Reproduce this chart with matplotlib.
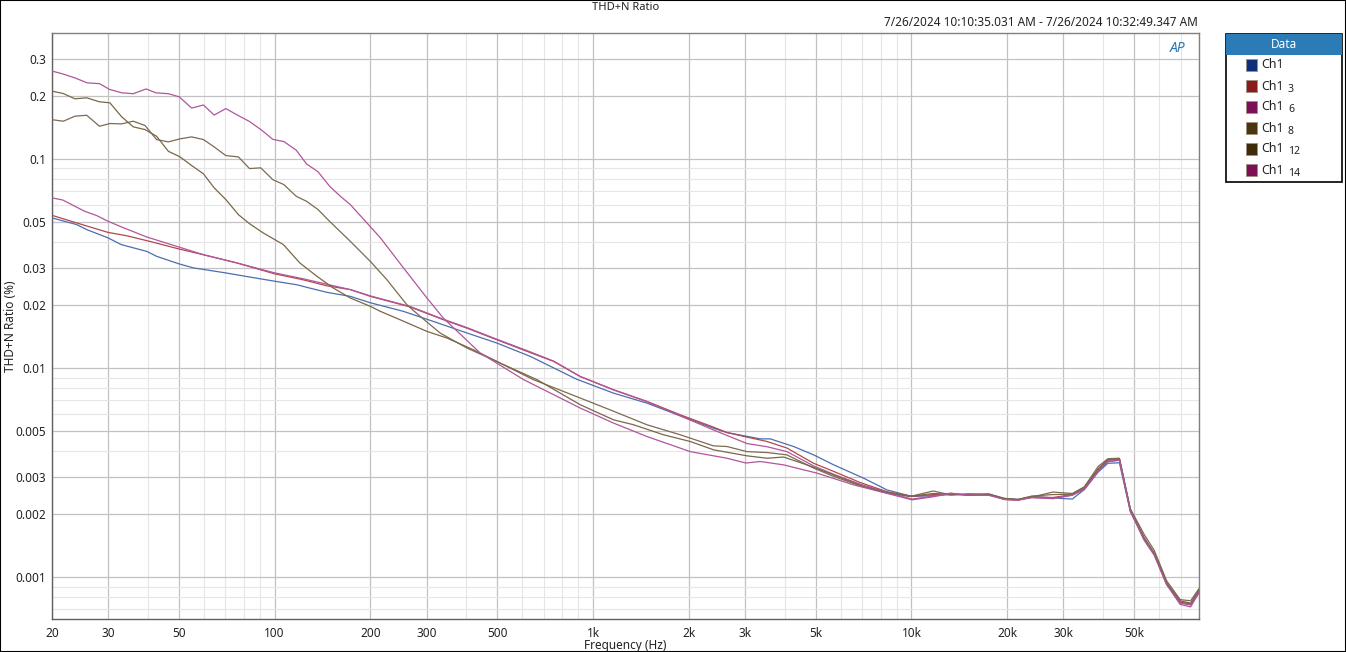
import numpy as np
import matplotlib
matplotlib.use("Agg")
import matplotlib.pyplot as plt
from matplotlib.patches import Rectangle
from matplotlib.ticker import FixedLocator, FixedFormatter, NullFormatter

plt.rcParams["font.family"] = ["Noto Sans", "DejaVu Sans"]

# ---------------------------------------------------------------
# data (frequency in Hz, THD+N in %)
# ---------------------------------------------------------------
TAIL_F = [11700, 13300, 15100, 17500, 19600, 21600, 23900, 27800, 32000, 34900,
          38600, 41400, 45000, 48700, 53800, 57900, 63300, 69800, 75300, 80000]

F_CH1 = [20, 23.9, 25.7, 30, 33, 39.7, 42.6, 50, 55.6, 69.1, 83.8, 100, 117.5, 129,
         146, 173, 200, 254, 315, 402, 499, 636, 886, 1160, 1477, 1880, 2391, 2635,
         3351, 3604, 4267, 4930, 5700, 7080, 8380, 10040] + TAIL_F
V_CH1 = [0.0522, 0.0485, 0.0459, 0.0419, 0.0389, 0.0361, 0.0342, 0.0315, 0.0301,
         0.0286, 0.0272, 0.0260, 0.0250, 0.0241, 0.0230, 0.0220, 0.0205, 0.01865,
         0.0167, 0.0147, 0.01316, 0.01135, 0.00885, 0.00758, 0.00679, 0.0059,
         0.00515, 0.00491, 0.00458, 0.00458, 0.00421, 0.00384, 0.00344, 0.00297,
         0.00261, 0.00243,
         0.00245, 0.00250, 0.00246, 0.00247, 0.00236, 0.00235, 0.00243, 0.00239,
         0.00236, 0.00262, 0.00318, 0.00350, 0.00352, 0.00205, 0.00152, 0.00128,
         0.00092, 0.000755, 0.000745, 0.00084]

F_CH3 = [20, 23.9, 30, 34.3, 40.6, 50, 59.8, 76.1, 100, 123, 146, 173, 200, 266,
         339, 402, 499, 621, 753, 912, 1160, 1477, 1880, 2391, 2635, 3044, 3520,
         4065, 4930, 5700, 6910, 8380, 10040] + TAIL_F
V_CH3 = [0.0537, 0.0494, 0.0445, 0.0429, 0.0403, 0.0371, 0.0348, 0.0318, 0.0282,
         0.0264, 0.0247, 0.0237, 0.0220, 0.0196, 0.0170, 0.0155, 0.01364, 0.0120,
         0.01074, 0.0091, 0.00787, 0.00692, 0.00597, 0.00521, 0.00491, 0.00467,
         0.00445, 0.00414, 0.0035, 0.0032, 0.00283, 0.00256, 0.00243,
         0.00248, 0.00247, 0.0025, 0.00249, 0.00235, 0.00233, 0.00242, 0.0024,
         0.00248, 0.00266, 0.00326, 0.00362, 0.00366, 0.0021, 0.00152, 0.00129,
         0.00093, 0.00076, 0.00074, 0.00086]

F_CH6 = [20, 21.6, 25.3, 27.6, 30, 33, 39.7, 50, 59.8, 76.1, 100, 123, 173, 200,
         266, 339, 402, 499, 621, 753, 912, 1160, 1477, 1880, 2391, 3044, 3520,
         4065, 4930, 5700, 6910, 8380, 10040] + TAIL_F
V_CH6 = [0.0651, 0.0636, 0.0562, 0.0536, 0.0503, 0.0473, 0.0423, 0.0379, 0.0348,
         0.0318, 0.0285, 0.0267, 0.0237, 0.0221, 0.0197, 0.0171, 0.0156, 0.01372,
         0.0121, 0.01078, 0.0091, 0.00785, 0.0069, 0.0059, 0.00505, 0.00435,
         0.0042, 0.00398, 0.0034, 0.0031, 0.00278, 0.00254, 0.00236,
         0.00244, 0.00252, 0.00246, 0.00248, 0.00237, 0.00234, 0.0024, 0.00238,
         0.00247, 0.00264, 0.00322, 0.00358, 0.00362, 0.00208, 0.00151, 0.00129,
         0.00093, 0.00075, 0.000735, 0.00085]

F_CH8 = [20, 21.7, 23.6, 25.7, 28.2, 30.4, 33.1, 36, 39.2, 42.6, 46.4, 50.5, 54.9,
         59.8, 64.6, 70.3, 77, 83.4, 90.5, 98.7, 107, 117, 126, 137, 149, 173,
         199.6, 225, 260, 286, 331, 402, 499, 650, 912, 1133, 1477, 1880, 2391,
         2635, 3044, 3520, 4065, 4930, 5700, 6910, 8380, 10040] + TAIL_F
V_CH8 = [0.154, 0.1514, 0.160, 0.1617, 0.1432, 0.1476, 0.147, 0.1514, 0.1444,
         0.1237, 0.1206, 0.1247, 0.1274, 0.1237, 0.1141, 0.1037, 0.1022, 0.0899,
         0.0906, 0.0796, 0.0753, 0.0662, 0.0627, 0.0572, 0.0502, 0.0403, 0.0324,
         0.0265, 0.0201, 0.0177, 0.0147, 0.01245, 0.01074, 0.00879, 0.00718,
         0.0063, 0.00535, 0.00479, 0.00424, 0.00421, 0.00398, 0.00394, 0.00384,
         0.00332, 0.00303, 0.00273, 0.00252, 0.00244,
         0.00258, 0.00247, 0.00249, 0.00247, 0.00237, 0.00235, 0.00241, 0.00255,
         0.00251, 0.0027, 0.00338, 0.00368, 0.0037, 0.00212, 0.0016, 0.00134,
         0.00096, 0.00078, 0.00077, 0.00088]

F_CH12 = [20, 21.7, 23.6, 25.7, 28.2, 30.4, 33.1, 36, 39.2, 42.6, 46.4, 50.5, 54.9,
          59.8, 64.6, 70.3, 77, 83.4, 92.2, 106.6, 120, 136, 153, 173, 200, 215,
          248, 301, 348, 421, 511, 667, 912, 1160, 1341, 1666, 2020, 2391, 3044,
          3520, 3967, 4700, 5700, 7080, 8380, 9800] + TAIL_F
V_CH12 = [0.2107, 0.2054, 0.1938, 0.1959, 0.1875, 0.1854, 0.1589, 0.1423, 0.1381,
          0.1283, 0.1087, 0.1022, 0.0929, 0.0848, 0.0727, 0.0639, 0.0541, 0.049,
          0.0442, 0.0389, 0.0318, 0.0274, 0.0241, 0.0216, 0.0197, 0.01865, 0.0170,
          0.01496, 0.0139, 0.01222, 0.01055, 0.00879, 0.00667, 0.00565, 0.00535,
          0.00479, 0.00445, 0.00406, 0.0038, 0.0037, 0.00375, 0.00344, 0.00308,
          0.00271, 0.00254, 0.00243,
          0.00251, 0.00249, 0.00247, 0.0025, 0.00238, 0.00235, 0.00244, 0.00248,
          0.00249, 0.00268, 0.0033, 0.00365, 0.00368, 0.0021, 0.00155, 0.0013,
          0.00094, 0.00077, 0.00075, 0.00087]

F_CH14 = [20, 21.6, 23.6, 25.8, 28.2, 30.3, 33.1, 36, 39.5, 42.4, 46.4, 50.2, 54.9,
          59.8, 64.6, 70.3, 77, 83.4, 91.2, 98.7, 107, 117, 126, 137, 149, 161,
          173, 215, 254, 301, 339, 442, 605, 912, 1160, 1477, 2020, 2635, 3022,
          3351, 3967, 5053, 6585, 7985, 10040] + TAIL_F
V_CH14 = [0.263, 0.255, 0.244, 0.231, 0.229, 0.215, 0.207, 0.205, 0.216, 0.207,
          0.205, 0.198, 0.175, 0.181, 0.162, 0.174, 0.161, 0.151, 0.137, 0.124,
          0.121, 0.110, 0.0946, 0.0867, 0.0739, 0.0662, 0.0604, 0.0419, 0.0301,
          0.0216, 0.0173, 0.0118, 0.0088, 0.00643, 0.00545, 0.0047, 0.00398,
          0.0037, 0.00351, 0.00357, 0.00344, 0.00314, 0.00276, 0.00256, 0.00234,
          0.00242, 0.00251, 0.00247, 0.00246, 0.00235, 0.00233, 0.0024, 0.00237,
          0.00246, 0.00262, 0.0032, 0.00356, 0.00362, 0.00207, 0.0015, 0.00127,
          0.00092, 0.00074, 0.00072, 0.00084]

NAMES = ["Ch1", "Ch1", "Ch1", "Ch1", "Ch1", "Ch1"]
SUBS = ["", "3", "6", "8", "12", "14"]
LINE_COLORS = ["#4d6db0", "#b2474f", "#b0569c", "#7d6b50", "#7a6748", "#b0569c"]
SWATCH_COLORS = ["#0f2f7a", "#8b1a1a", "#7b1054", "#4a3510", "#3f2b0a", "#7b1054"]

X_TICKS = [20, 30, 50, 100, 200, 300, 500, 1000, 2000, 3000, 5000,
           10000, 20000, 30000, 50000]
X_LABELS = ["20", "30", "50", "100", "200", "300", "500", "1k", "2k", "3k", "5k",
            "10k", "20k", "30k", "50k"]
Y_TICKS = [0.3, 0.2, 0.1, 0.05, 0.03, 0.02, 0.01, 0.005, 0.003, 0.002, 0.001]
Y_LABELS = ["0.3", "0.2", "0.1", "0.05", "0.03", "0.02", "0.01", "0.005",
            "0.003", "0.002", "0.001"]

W, H = 1346, 652


def minor_ticks(lo_exp, hi_exp, subs):
    out = []
    for e in range(lo_exp, hi_exp + 1):
        for s in subs:
            out.append(s * 10.0 ** e)
    return out


fig = plt.figure(figsize=(W / 100, H / 100), dpi=100)
fig.patch.set_facecolor("white")
fig.patches.append(Rectangle((0, 0), 1, 1, transform=fig.transFigure,
                             fill=False, edgecolor="black", linewidth=1.5))

L, R, T, B = 52, 1199, 33, 619
ax = fig.add_axes([L / W, (H - B) / H, (R - L) / W, (B - T) / H])

series = [(F_CH1, V_CH1), (F_CH3, V_CH3), (F_CH6, V_CH6),
          (F_CH8, V_CH8), (F_CH12, V_CH12), (F_CH14, V_CH14)]
for (f, v), c in zip(series, LINE_COLORS):
    ax.plot(f, v, color=c, linewidth=0.9, zorder=3)

ax.set_xscale("log")
ax.set_yscale("log")
ax.set_xlim(20, 80000)
ax.set_ylim(0.00063, 0.4)

ax.xaxis.set_major_locator(FixedLocator(X_TICKS))
ax.xaxis.set_major_formatter(FixedFormatter(X_LABELS))
ax.xaxis.set_minor_locator(FixedLocator(minor_ticks(1, 4, [4, 6, 7, 8, 9])))
ax.xaxis.set_minor_formatter(NullFormatter())
ax.yaxis.set_major_locator(FixedLocator(Y_TICKS))
ax.yaxis.set_major_formatter(FixedFormatter(Y_LABELS))
ax.yaxis.set_minor_locator(FixedLocator(minor_ticks(-4, -1, [4, 6, 7, 8, 9])))
ax.yaxis.set_minor_formatter(NullFormatter())

ax.grid(which="major", color="#c2c2c2", linewidth=0.9)
ax.grid(which="minor", color="#e6e6e6", linewidth=0.8)
ax.set_axisbelow(True)
ax.tick_params(which="both", length=0, labelsize=8.5, colors="#222222")
ax.tick_params(axis="x", pad=6)
ax.tick_params(axis="y", pad=4)
for s in ax.spines.values():
    s.set_color("#808080")
    s.set_linewidth(1.0)
ax.spines["left"].set_color("#606060")
ax.spines["bottom"].set_color("#606060")

ax.set_xlabel("Frequency (Hz)", fontsize=8.5, labelpad=-1, color="#222222")
ax.set_ylabel("THD+N Ratio (%)", fontsize=8.5, labelpad=-1, color="#222222")

fig.text(626 / W, 1 - 7 / H, "THD+N Ratio", ha="center", va="center",
         fontsize=8, color="#222222")
fig.text(1198 / W, 1 - 22 / H,
         "7/26/2024 10:10:35.031 AM - 7/26/2024 10:32:49.347 AM",
         ha="right", va="center", fontsize=8.5, color="#222222")
fig.text(1178 / W, 1 - 49 / H, "AP", ha="center", va="center", fontsize=10,
         fontweight="bold", fontstyle="italic", color="#2a7ab5")

# legend box drawn by hand to mimic the AP panel
lx0, lx1, ly0, ly1 = 1226, 1342, 34, 182
fig.patches.append(Rectangle((lx0 / W, 1 - ly1 / H), (lx1 - lx0) / W,
                             (ly1 - ly0) / H, transform=fig.transFigure,
                             facecolor="white", edgecolor="black", linewidth=1.2))
fig.patches.append(Rectangle((lx0 / W, 1 - 55 / H), (lx1 - lx0) / W, 21 / H,
                             transform=fig.transFigure, facecolor="#2b7bb7",
                             edgecolor="none"))
fig.text((lx0 + lx1) / 2 / W, 1 - 45 / H, "Data", ha="center", va="center",
         fontsize=8.5, fontweight="bold", color="white")
for i, (name, sub, sc) in enumerate(zip(NAMES, SUBS, SWATCH_COLORS)):
    yc = 65 + 21 * i
    fig.patches.append(Rectangle((1246 / W, 1 - (yc + 6) / H), 11 / W, 12 / H,
                                 transform=fig.transFigure, facecolor=sc,
                                 edgecolor="#a09080", linewidth=0.6))
    fig.text(1261 / W, 1 - yc / H, name, ha="left", va="center", fontsize=9,
             color="#222222")
    if sub:
        fig.text(1288 / W, 1 - (yc + 3) / H, sub, ha="left", va="center",
                 fontsize=7.5, color="#222222")

fig.savefig("out.png", dpi=100, facecolor="white")
